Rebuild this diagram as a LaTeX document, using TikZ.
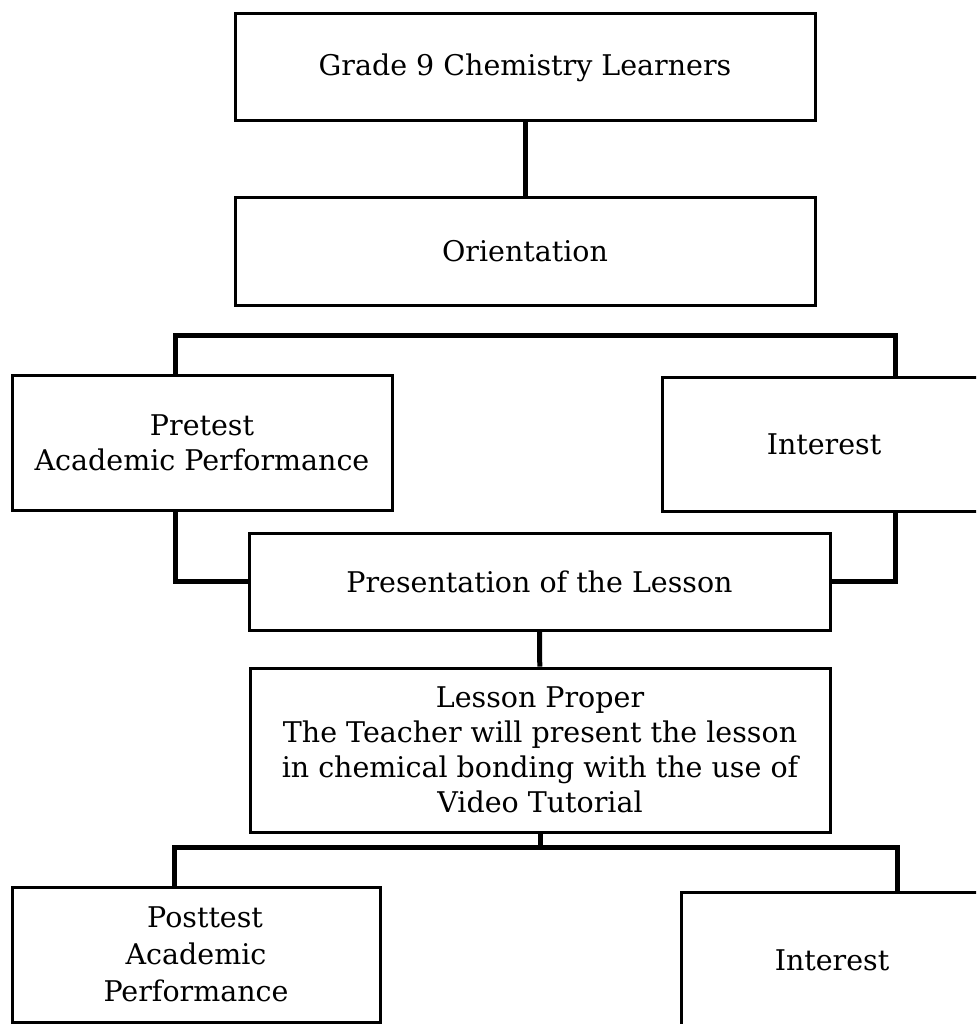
\documentclass[tikz,border=0pt]{standalone}
\usepackage{fontspec}
\setmainfont{DejaVu Serif}
\begin{document}
\begin{tikzpicture}[x=1pt, y=-1pt, line join=miter,
	main/.style = {draw, rectangle, line width=3pt, align=center, inner sep=0pt,
		font=\fontsize{28.5}{35}\selectfont},
	link/.style = {line width=5pt}]
			\clip (0,0) rectangle (976,1024);
			\node[main] (1) [minimum width=580pt, minimum height=107pt] at (525,67.5) {Grade 9 Chemistry Learners};
			\node[main] (2) [minimum width=580pt, minimum height=107pt] at (525,251.5) {Orientation};
			\node[main] (3) [minimum width=380pt, minimum height=135pt] at (202,442.5) {Pretest\\Academic Performance};
			\node[main] (4) [minimum width=324pt, minimum height=134pt] at (824,444) {Interest};
			\node[main] (5) [minimum width=581pt, minimum height=97pt] at (539.5,581.5) {Presentation of the Lesson};
			\node[main] (6) [minimum width=580pt, minimum height=164pt] at (540,750) {Lesson Proper\\The Teacher will present the lesson\\in chemical bonding with the use of\\Video Tutorial};
			\node[main] (7) [minimum width=368pt, minimum height=135pt] at (196,954.5) {\ \ Posttest\\[2pt]Academic\\[2pt]Performance};
			\node[main] (8) [minimum width=302pt, minimum height=136pt] at (832,960) {Interest};
			% branch points
			\coordinate (t1) at (175,335);
			\coordinate (t2) at (895,335);
			\coordinate (t3) at (174,847);
			\coordinate (t4) at (897,847);
			\path[link]
			(1) edge (2)
			(5) edge (6);
			\draw[link] (3.north -| t1) -- (t1) -- (t2) -- (4.north -| t2);
			\draw[link] (3.south -| t1) |- (5.west);
			\draw[link] (4.south -| t2) |- (5.east);
			\draw[link] (6.south) -- (6.south |- t3);
			\draw[link] (7.north -| t3) -- (t3) -- (t4) -- (8.north -| t4);
		\end{tikzpicture}
\end{document}
